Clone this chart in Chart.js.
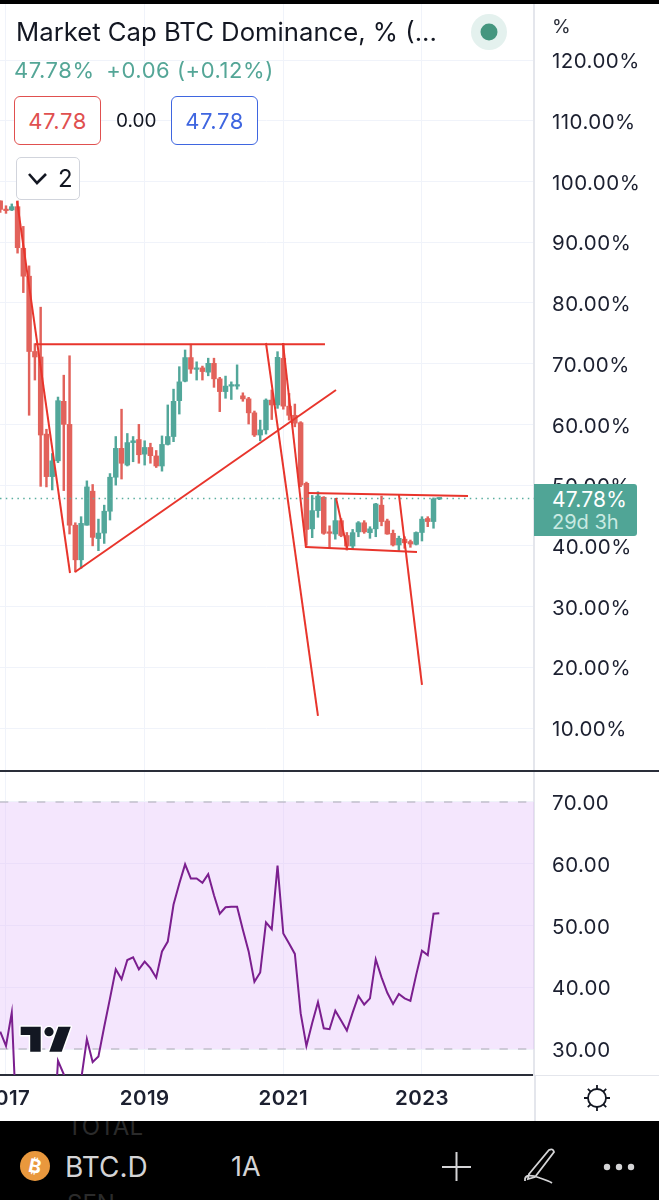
<!DOCTYPE html>
<html>
<head>
<meta charset="utf-8">
<title>BTC.D</title>
<script src="https://cdn.jsdelivr.net/npm/chart.js@4/dist/chart.umd.min.js"></script>
<style>
  html, body { margin: 0; padding: 0; background: #fff; }
  #page { position: relative; width: 659px; height: 1200px; overflow: hidden; background: #fff; font-family: Inter, "Noto Sans", sans-serif; color: #131722; }
  canvas { position: absolute; left: 0; }
  #priceChart { top: 3px; }
  #rsiChart { top: 772px; }
  .abs { position: absolute; white-space: nowrap; }
  .box { position: absolute; top: 96px; width: 85px; height: 47px; border: 1.6px solid; border-radius: 6px; background: #fff; font-size: 22px; letter-spacing: .6px; line-height: 48px; text-align: center; }
  svg.abs { overflow: visible; }
</style>
</head>
<body>
<div id="page">
  <canvas id="priceChart" width="659" height="768"></canvas>
  <canvas id="rsiChart" width="659" height="348"></canvas>

  <div class="abs" style="left:0;top:0;width:659px;height:3.5px;background:#000"></div>
  <div class="abs" style="left:0;top:770px;width:659px;height:2px;background:#2a2e39"></div>
  <div class="abs" style="left:535px;top:1075px;width:124px;height:1px;background:#e4e6ec"></div>
  <div class="abs" style="left:534px;top:1075px;width:2px;height:46px;background:#e4e6ec"></div>

  <div class="abs" style="left:16px;top:16px;font-size:25.7px;line-height:32px">Market Cap BTC Dominance, % (...</div>
  <div class="abs" style="left:14px;top:57px;font-size:22px;line-height:26px;color:#54a697;letter-spacing:.55px">47.78% <span style="margin-left:5px">+0.06 (+0.12%)</span></div>
  <div class="box" style="left:14px;border-color:#e0504f;color:#e0504f">47.78</div>
  <div class="abs" style="left:116px;top:109px;font-size:19px;line-height:24px">0.00</div>
  <div class="box" style="left:171px;border-color:#3f66e0;color:#3f66e0">47.78</div>
  <div class="abs" style="left:16px;top:157px;width:62px;height:41px;border:1.5px solid #d1d4dc;border-radius:5px;background:#fff"></div>
  <svg class="abs" style="left:0;top:0" width="100" height="210"><path d="M29 174 L37 183 L46 174" fill="none" stroke="#131722" stroke-width="2.6"/></svg>
  <div class="abs" style="left:58px;top:164px;font-size:24px;line-height:30px">2</div>

  <svg class="abs" style="left:0;top:0" width="659" height="60">
    <circle cx="489" cy="32" r="18" fill="#e4f1ee"/>
    <circle cx="489" cy="32" r="8.5" fill="#45967f"/>
  </svg>
  <div class="abs" style="left:552px;top:15px;font-size:19px;line-height:24px;color:#2a2e39">%</div>

  <div class="abs" style="left:534px;top:484px;width:103px;height:52px;background:#50a596;border-radius:0 3px 3px 0;text-align:left">
    <div class="abs" style="left:18px;top:4px;font-size:21px;letter-spacing:.2px;line-height:24px;color:#fff">47.78%</div>
    <div class="abs" style="left:18px;top:26px;font-size:20px;line-height:24px;color:#c9eae2">29d 3h</div>
  </div>

  <svg class="abs" style="left:0;top:0" width="659" height="1200">
    <g fill="#131722" stroke="#fff" stroke-width="3" paint-order="stroke" stroke-linejoin="round">
      <path d="M20.7 1026.7 H40.7 V1051.7 H30.2 V1035 H20.7 Z"/>
      <circle cx="49" cy="1031.7" r="4.6"/>
      <path d="M58.3 1026.7 H70.7 L61.7 1051.7 H49.3 Z"/>
    </g>
    <g fill="none" stroke="#131722" stroke-width="1.8">
      <circle cx="597" cy="1098" r="9"/>
      <path d="M597 1085 V1089 M597 1107 V1111 M584 1098 H588 M606 1098 H610 M587.8 1088.8 L590.6 1091.6 M603.4 1104.4 L606.2 1107.2 M587.8 1107.2 L590.6 1104.4 M603.4 1091.6 L606.2 1088.8"/>
    </g>
  </svg>

  <div class="abs" style="left:0;top:1121px;width:659px;height:79px;background:#000;overflow:hidden">
    <div class="abs" style="left:67px;top:-9px;font-size:24px;line-height:30px;color:#2b2b2b">TOTAL</div>
    <div class="abs" style="left:67px;top:68px;font-size:24px;line-height:30px;color:#2b2b2b">SEN</div>
    <div class="abs" style="left:65px;top:30px;font-size:28px;line-height:32px;color:#d4d4d6">BTC.D</div>
    <div class="abs" style="left:231px;top:30px;font-size:27px;line-height:32px;color:#d4d4d6">1A</div>
  </div>
  <svg class="abs" style="left:0;top:0" width="659" height="1200">
    <circle cx="35" cy="1166" r="15" fill="#e9983d"/>
    <text x="35" y="1173" text-anchor="middle" font-family="Inter" font-weight="700" font-size="19" fill="#fff" transform="rotate(12 35 1166)">₿</text>
    <path d="M442 1167 H471 M456.5 1152 V1181" stroke="#d4d4d6" stroke-width="2" fill="none"/>
    <path d="M529 1174 L549 1150 Q553 1148 554 1152 L535 1177 L528 1179 Z M525 1181 Q524 1172 540 1178 Q549 1181 552 1183" stroke="#d4d4d6" stroke-width="1.8" fill="none"/>
    <circle cx="607" cy="1167" r="3.2" fill="#d4d4d6"/>
    <circle cx="619" cy="1167" r="3.2" fill="#d4d4d6"/>
    <circle cx="631" cy="1167" r="3.2" fill="#d4d4d6"/>
  </svg>
</div>

<script>
// monthly candles, values
const months = [
  '2016-12',
  '2017-01','2017-02','2017-03','2017-04','2017-05','2017-06','2017-07','2017-08','2017-09','2017-10','2017-11','2017-12',
  '2018-01','2018-02','2018-03','2018-04','2018-05','2018-06','2018-07','2018-08','2018-09','2018-10','2018-11','2018-12',
  '2019-01','2019-02','2019-03','2019-04','2019-05','2019-06','2019-07','2019-08','2019-09','2019-10','2019-11','2019-12',
  '2020-01','2020-02','2020-03','2020-04','2020-05','2020-06','2020-07','2020-08','2020-09','2020-10','2020-11','2020-12',
  '2021-01','2021-02','2021-03','2021-04','2021-05','2021-06','2021-07','2021-08','2021-09','2021-10','2021-11','2021-12',
  '2022-01','2022-02','2022-03','2022-04','2022-05','2022-06','2022-07','2022-08','2022-09','2022-10','2022-11','2022-12',
  '2023-01','2023-02','2023-03','2023-04'
];
const opens = [
  96.8,95.4,95.3,95.85,89.0,84.4,72.0,71.1,58.4,51.4,54.0,
  63.8,60.0,43.4,37.7,43.4,49.0,41.2,42.1,45.7,51.3,
  56.05,53.3,57.0,57.5,55.1,56.2,54.8,53.15,56.7,58.0,
  63.9,67.1,71.0,69.06,69.3,68.6,70.05,67.5,65.4,66.3,
  66.3,64.7,64.2,61.9,58.25,59.1,64.0,63.2,70.87,63.0,
  61.5,60.28,50.3,42.8,45.8,48.0,42.3,41.95,44.15,41.7,
  39.97,42.3,43.8,42.17,42.8,46.7,44.1,42.06,40.14,41.1,
  40.7,40.25,42.2,44.5,44.0,47.72
];
const highs = [
  96.8,96.0,96.3,96.8,92.6,86.1,73.3,79.3,59.2,55.2,64.5,
  68.1,71.3,43.8,44.8,50.7,50.1,44.4,46.7,51.9,58.0,
  62.5,58.5,58.0,60.0,57.3,56.9,55.7,58.1,63.2,65.8,
  69.5,72.25,73.2,70.3,69.6,70.9,70.9,67.75,67.95,67.0,
  69.8,65.2,64.45,62.2,60.7,64.2,65.66,71.97,73.35,65.1,
  63.35,60.45,50.5,48.3,48.9,48.1,43.3,47.8,44.5,42.2,
  42.7,44.0,44.15,43.15,47.0,48.2,44.4,42.6,41.6,41.5,
  40.96,42.3,44.8,44.8,47.9,47.9
];
const lows = [
  94.9,94.75,95.2,88.2,81.7,61.5,67.3,49.8,49.7,49.2,53.7,
  49.1,41.95,35.7,36.3,43.4,40.0,39.2,40.4,44.25,50.0,
  51.0,53.15,53.85,53.6,53.3,53.6,52.9,52.3,56.6,57.15,
  61.7,67.0,68.4,67.3,67.3,68.0,66.1,62.1,64.3,64.1,
  65.8,63.8,60.06,58.0,57.3,58.4,60.8,62.64,62.5,60.7,
  59.6,49.74,40.1,41.35,44.7,41.9,39.6,41.1,41.5,39.3,
  39.4,41.5,42.06,41.24,41.5,43.3,41.9,39.97,39.04,39.6,
  39.76,40.14,40.8,43.16,42.9,47.6
];
const closes = [
  95.4,95.2,95.85,89.1,84.4,72.0,71.1,58.25,51.4,54.0,63.9,
  60.0,43.4,37.7,43.7,49.7,41.4,42.1,45.7,51.3,56.05,
  53.6,57.0,57.3,55.0,56.2,54.85,53.15,56.7,58.0,63.8,
  67.0,71.0,69.1,69.2,68.7,70.05,67.5,65.4,66.3,66.5,
  66.5,64.2,61.9,58.25,59.1,64.0,63.2,71.04,63.0,61.5,
  60.2,50.0,42.7,45.8,48.2,42.06,42.06,44.15,41.7,39.97,
  42.17,43.8,42.3,42.8,46.9,44.0,41.95,40.14,41.24,40.5,
  40.3,42.2,44.4,44.0,47.72,47.78
];
// parts below 25 are off the pane in the picture, so those are rough guesses
const rsi = [
  32.8,30.5,35.9,14,12,10,10,9,10,12,28.1,
  25.9,15,18,25,31.6,27.9,28.8,33.6,38.2,42.9,
  41.3,44.4,44.85,42.9,44.15,43.1,41.55,45.8,47.4,53.4,
  56.8,59.9,57.6,57.6,56.9,58.3,54.9,51.9,52.95,53.05,
  53.05,49.3,45.8,40.9,42.4,50.5,49.4,59.7,48.7,47.1,
  45.4,35.8,30.5,34.2,37.6,33.35,33.2,36.2,34.6,33.0,
  35.9,38.6,37.2,38.2,44.5,41.6,39.1,37.3,38.9,38.2,
  37.8,42.0,45.9,45.2,51.9,52.0
];
const lastPrice = 47.78;

// hand drawn trend lines: [year, %, year, %]
const trendLines = [
  [2017.159, 96.78, 2017.923, 35.53],
  [2017.418, 73.2, 2021.601, 73.2],
  [2017.995, 35.7, 2021.760, 65.66],
  [2020.750, 73.4, 2021.500, 12.0],
  [2020.995, 73.4, 2021.327, 39.65],
  [2021.356, 48.7, 2023.664, 48.2],
  [2021.327, 39.8, 2022.928, 39.0],
  [2022.668, 48.4, 2023.000, 17.09],
  [2021.760, 47.9, 2021.919, 39.65]
];

const yearTicks = [2017, 2019, 2021, 2023];
const priceTicks = [120, 110, 100, 90, 80, 70, 60, 50, 40, 30, 20, 10];
const rsiTicks = [70, 60, 50, 40, 30];
const rsiBandTop = 70;
const rsiBandBottom = 30;

const xMin = 2016.9135, xMax = 2024.616;
const green = '#52a79a', red = '#e2625b', lineRed = '#e8352c', gridColor = '#f0f3fa', axisColor = '#e4e6ec', textColor = '#1c2030';

const xs = months.map(m => { const [y, mo] = m.split('-').map(Number); return y + (mo - 1) / 12; });
const isUp = i => closes[i] >= opens[i];
const candleColors = xs.map((x, i) => isUp(i) ? green : red);

const noPad = s => { s.paddingLeft = s.paddingRight = s.paddingTop = s.paddingBottom = 0; };

function xAxis(showLabels) {
    return {
        type: 'linear', min: xMin, max: xMax, offset: false,
        grid: { color: gridColor, drawTicks: false, offset: false },
        border: showLabels ? { display: true, color: '#2a2e39', width: 2 } : { display: false },
        ticks: {
            display: showLabels, autoSkip: false, maxRotation: 0, padding: 12, color: textColor,
            font: { family: 'Inter', size: 20.5, weight: '600' },
            callback: v => String(v)
        },
        afterBuildTicks: s => { s.ticks = yearTicks.map(value => ({ value })); },
        afterFit: s => { s.height = showLabels ? 45 : 0; noPad(s); }
    };
}

function yAxis(min, max, list, fmt) {
    return {
        position: 'right', min, max,
        grid: { color: gridColor, drawTicks: false },
        border: { display: true, color: axisColor, width: 2 },
        ticks: { padding: 18, color: textColor, font: { family: 'Inter', size: 20.5 }, callback: fmt },
        afterBuildTicks: s => { s.ticks = list.map(value => ({ value })); },
        afterFit: s => { s.width = 125; noPad(s); }
    };
}

// tick text sits a bit lower and wider in the original than canvas 'middle' gives
const tickNudge = {
    id: 'tickNudge',
    beforeDraw(chart) {
        chart.ctx.letterSpacing = '0.45px';
        chart.scales.y.getLabelItems().forEach(item => { item.options.translation[1] += 2; });
    }
};

const commonOptions = { responsive: false, animation: false, layout: { padding: 0 }, plugins: { legend: { display: false }, tooltip: { enabled: false } } };

const trendSets = trendLines.map(l => ({
    type: 'line', order: 0, borderColor: lineRed, borderWidth: 2, pointRadius: 0, tension: 0,
    data: [{ x: l[0], y: l[1] }, { x: l[2], y: l[3] }]
}));

new Chart(document.getElementById('priceChart'), {
    type: 'line',
    plugins: [tickNudge],
    data: {
        datasets: [
            ...trendSets,
            {
                type: 'bar', order: 2, grouped: false, barThickness: 4.8, minBarLength: 1.5,
                backgroundColor: candleColors, borderWidth: 0,
                data: xs.map((x, i) => ({ x, y: [Math.min(opens[i], closes[i]), Math.max(opens[i], closes[i])] }))
            },
            {
                type: 'bar', order: 3, grouped: false, barThickness: 1.8,
                backgroundColor: candleColors, borderWidth: 0,
                data: xs.map((x, i) => ({ x, y: [lows[i], highs[i]] }))
            },
            {
                type: 'line', order: 1, borderColor: '#5aae9f', borderWidth: 1.5, borderDash: [1.5, 4.3], pointRadius: 0,
                data: [{ x: xMin, y: lastPrice }, { x: xMax, y: lastPrice }]
            }
        ]
    },
    options: {
        ...commonOptions,
        scales: { x: xAxis(false), y: yAxis(2.925, 129.386, priceTicks, v => v.toFixed(2) + '%') }
    }
});

new Chart(document.getElementById('rsiChart'), {
    type: 'line',
    plugins: [tickNudge],
    data: {
        datasets: [
            {
                order: 3, borderColor: '#a9a9b4', borderWidth: 1.2, borderDash: [8.3, 10.2], pointRadius: 0,
                backgroundColor: 'rgba(225,190,250,0.38)', fill: { value: rsiBandBottom },
                data: [{ x: xMin, y: rsiBandTop }, { x: xMax, y: rsiBandTop }]
            },
            {
                order: 2, borderColor: '#a9a9b4', borderWidth: 1.2, borderDash: [8.3, 10.2], pointRadius: 0,
                data: [{ x: xMin, y: rsiBandBottom }, { x: xMax, y: rsiBandBottom }]
            },
            {
                order: 0, borderColor: '#7b1f8f', borderWidth: 2, pointRadius: 0, tension: 0,
                data: xs.map((x, i) => ({ x, y: rsi[i] }))
            }
        ]
    },
    options: {
        ...commonOptions,
        scales: { x: xAxis(true), y: yAxis(25.79, 74.858, rsiTicks, v => v.toFixed(2)) }
    }
});
</script>
</body>
</html>
